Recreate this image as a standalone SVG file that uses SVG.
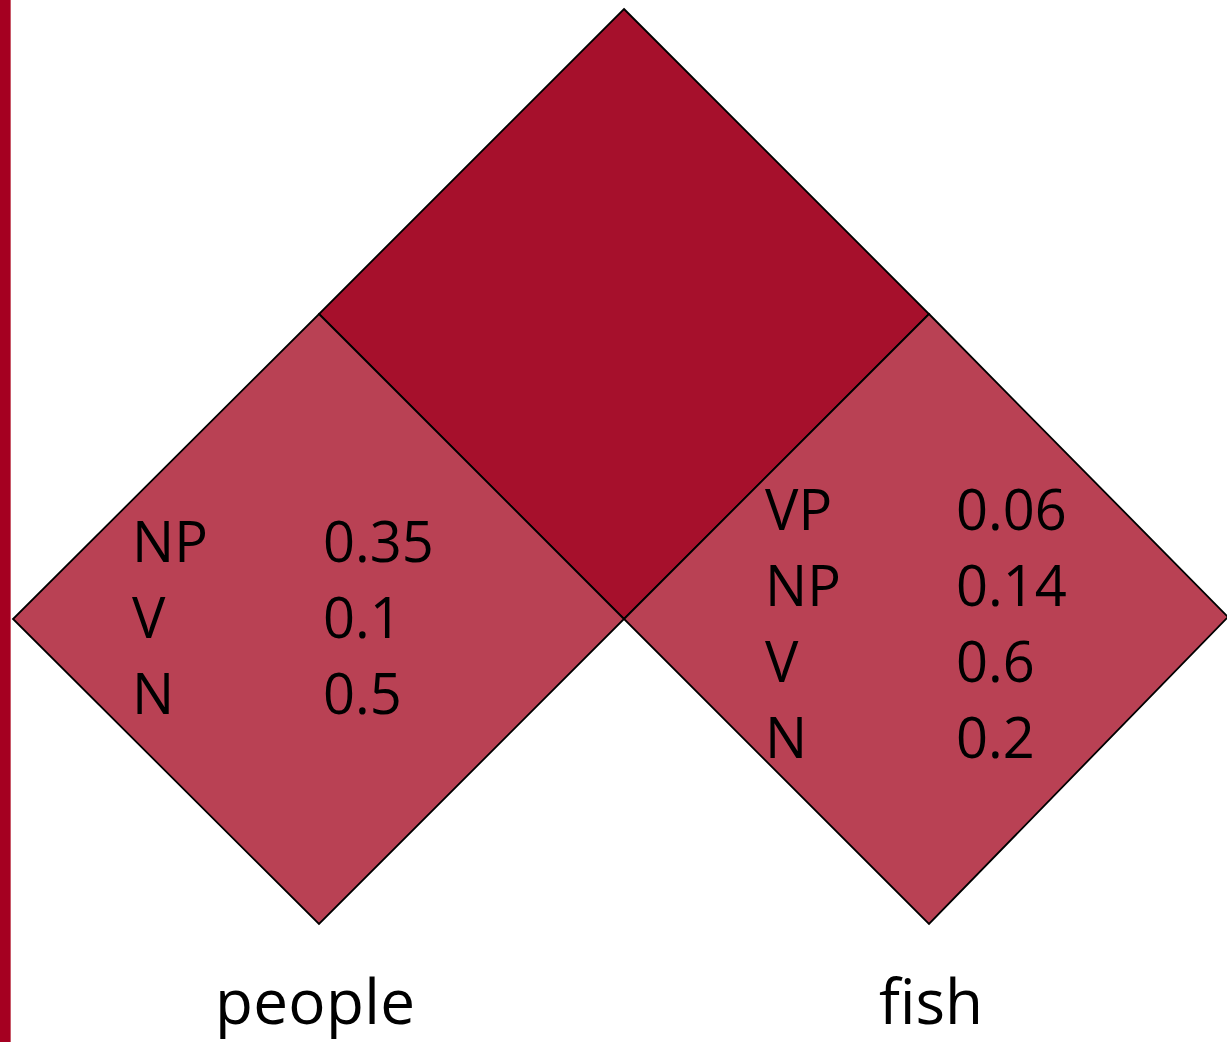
<svg xmlns="http://www.w3.org/2000/svg" width="1227" height="1042" viewBox="0 0 1227 1042">
<style>
.cell{stroke:#000;stroke-width:1.8;stroke-linejoin:miter}
.top{fill:#A6102C}
.side{fill:#B94154}
.t{font-family:"Open Sans","Liberation Sans",sans-serif;font-size:56px;fill:#000}
.w{font-family:"Open Sans","Liberation Sans",sans-serif;font-size:62px;fill:#000;text-anchor:middle}
</style>
<rect x="0" y="0" width="10" height="1042" fill="#A50021"/>
<rect x="10" y="0" width="1" height="1042" fill="#C85A6A"/>
<g id="cell-top">
<polygon class="cell top" points="624,9 929,314 624,619 319,314"/>
</g>
<g id="cell-people">
<polygon class="cell side" points="319,314 624,619 319,924 13,619"/>
<text class="t" x="132" y="562">NP</text>
<text class="t" x="323" y="562">0.35</text>
<text class="t" x="132" y="638">V</text>
<text class="t" x="323" y="638">0.1</text>
<text class="t" x="132" y="714">N</text>
<text class="t" x="323" y="714">0.5</text>
</g>
<g id="cell-fish">
<polygon class="cell side" points="929,314 1228,617 929,924 624,619"/>
<text class="t" x="765" y="530">VP</text>
<text class="t" x="956" y="530">0.06</text>
<text class="t" x="765" y="606">NP</text>
<text class="t" x="956" y="606">0.14</text>
<text class="t" x="765" y="682">V</text>
<text class="t" x="956" y="682">0.6</text>
<text class="t" x="765" y="758">N</text>
<text class="t" x="956" y="758">0.2</text>
</g>
<g id="word-people"><text class="w" x="315" y="1024" textLength="200">people</text></g>
<g id="word-fish"><text class="w" x="931" y="1024">fish</text></g>
<g id="connectors"></g>
</svg>
